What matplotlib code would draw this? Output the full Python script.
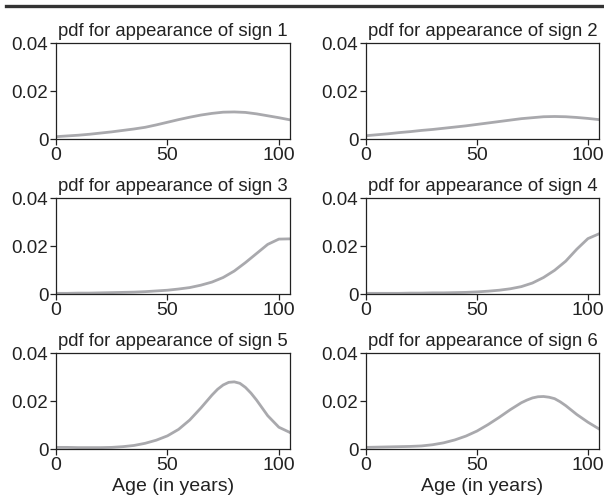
import matplotlib
matplotlib.use("Agg")
import matplotlib.pyplot as plt
from matplotlib.lines import Line2D

plt.rcParams['font.family'] = ['Liberation Sans', 'DejaVu Sans']

# ages (years) at which the pdf values were read
age = [0, 5, 10, 15, 20, 25, 30, 35, 40, 45, 50, 55, 60, 65, 70, 75, 80, 85, 90, 95, 100, 105]
# signs 5 and 6 were also read in between near the peak
age_pk = [0, 5, 10, 15, 20, 25, 30, 35, 40, 45, 50, 55, 60, 65, 70, 72.5, 75, 77.5, 80,
          82.5, 85, 87.5, 90, 95, 100, 105]

sign1 = [.0011, .0014, .0017, .0021, .0026, .0031, .0037, .0043, .0050, .0060, .0071,
         .0082, .0092, .0101, .0108, .0113, .0114, .0112, .0106, .0098, .0090, .0081]
sign2 = [.0015, .0019, .0023, .0028, .0032, .0037, .0041, .0046, .0051, .0056, .0062,
         .0068, .0074, .0080, .0086, .0090, .0094, .0095, .0094, .0091, .0087, .0082]
sign3 = [.0004, .0004, .0005, .0005, .0006, .0007, .0008, .0009, .0011, .0014, .0017,
         .0022, .0028, .0038, .0051, .0070, .0097, .0132, .0170, .0208, .0230, .0231]
sign4 = [.0004, .0004, .0004, .0004, .0005, .0005, .0006, .0006, .0007, .0008, .0010,
         .0013, .0017, .0023, .0032, .0047, .0070, .0100, .0138, .0188, .0232, .0252]
sign5 = [.0008, .0008, .0007, .0007, .0007, .0008, .0011, .0016, .0025, .0038, .0056,
         .0083, .0122, .0172, .0226, .0250, .0268, .0279, .0281, .0275, .0258, .0234,
         .0205, .0140, .0092, .0070]
sign6 = [.0008, .0009, .0010, .0011, .0012, .0014, .0019, .0027, .0039, .0055, .0076,
         .0103, .0133, .0165, .0194, .0205, .0214, .0219, .0220, .0217, .0211, .0198,
         .0182, .0145, .0113, .0085]

signs = [sign1, sign2, sign3, sign4, sign5, sign6]
ages = [age, age, age, age, age_pk, age_pk]
titles = ['pdf for appearance of sign %d' % (i + 1) for i in range(6)]
xticks = [0, 50, 100]
yticks = [0, 0.02, 0.04]
yticklabels = ['0', '0.02', '0.04']

W, H = 604, 503
fig = plt.figure(figsize=(W / 100, H / 100), dpi=100)

# thick rule at the top
fig.add_artist(Line2D([6 / W, 1], [1 - 5.5 / H, 1 - 5.5 / H], color='#333333', lw=2.4))

lefts = [56, 366]
widths = [234, 233]
tops = [43.3, 198.3, 353.3]
ax_h = 96

for i in range(6):
    r, c = i // 2, i % 2
    ax = fig.add_axes([lefts[c] / W, 1 - (tops[r] + ax_h) / H, widths[c] / W, ax_h / H])
    ax.plot(ages[i], signs[i], color='#a9a9ad', lw=2.0, solid_joinstyle='round')
    ax.set_xlim(0, 105)
    ax.set_ylim(0, 0.04)
    ax.set_xticks(xticks)
    ax.set_xticklabels([str(t) for t in xticks], fontsize=14)
    ax.set_yticks(yticks)
    ax.set_yticklabels(yticklabels, fontsize=13.5)
    ax.tick_params(direction='out', length=4, width=0.9, color='#222222',
                   labelcolor='#222222', pad=1.5)
    for s in ax.spines.values():
        s.set_linewidth(0.9)
        s.set_color('#222222')
    ax.set_title(titles[i], fontsize=13.3, color='#222222', pad=5.5)
    if r == 2:
        ax.set_xlabel('Age (in years)', fontsize=14, color='#222222', labelpad=3)

fig.savefig('out.png', dpi=100)
